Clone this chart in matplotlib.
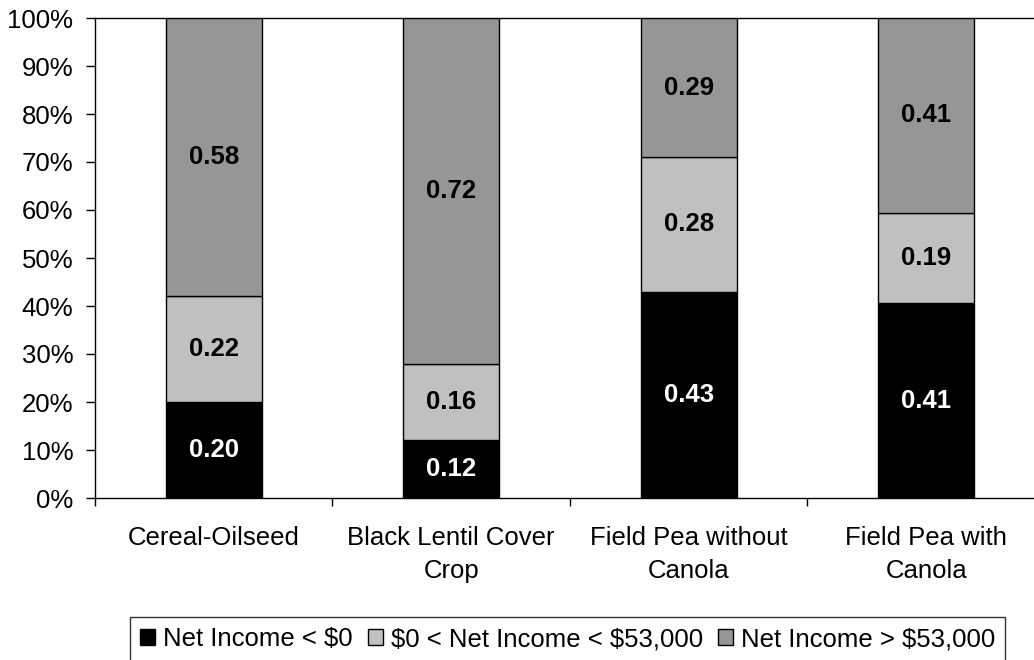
import numpy as np
import matplotlib
matplotlib.use("Agg")
import matplotlib.pyplot as plt
from matplotlib.ticker import FuncFormatter

plt.rcParams['font.family'] = ['Liberation Sans', 'DejaVu Sans']
plt.rcParams['text.parse_math'] = False

categories = ["Cereal-Oilseed", "Black Lentil Cover\nCrop",
              "Field Pea without\nCanola", "Field Pea with\nCanola"]
series_names = ["Net Income < $0", "$0 < Net Income < $53,000",
                "Net Income > $53,000"]
below_zero = [0.20, 0.12, 0.43, 0.41]
mid_income = [0.22, 0.16, 0.28, 0.19]
high_income = [0.58, 0.72, 0.29, 0.41]

colors = ["#000000", "#c0c0c0", "#969696"]
text_colors = ["white", "black", "black"]
FS = 18.5

data = np.array([below_zero, mid_income, high_income])
shares = data / data.sum(axis=0)

fig = plt.figure(figsize=(10.34, 6.6), dpi=100)
ax = fig.add_axes([95 / 1034, 1 - 498 / 660, 950 / 1034, 480 / 660])

x = np.arange(len(categories))
bottom = np.zeros(len(categories))
handles = []
for i, name in enumerate(series_names):
    bars = ax.bar(x, shares[i], bottom=bottom, width=0.405, color=colors[i],
                  edgecolor="black", linewidth=1.0, label=name, zorder=3)
    handles.append(bars)
    for xi, b, s, v in zip(x, bottom, shares[i], data[i]):
        ax.text(xi, b + s / 2, f"{v:.2f}", ha="center", va="center",
                fontsize=FS, fontweight="bold", color=text_colors[i], zorder=4)
    bottom += shares[i]

ax.set_xlim(-0.5, len(categories) - 0.5)
ax.set_ylim(0, 1)
ax.set_yticks(np.linspace(0, 1, 11))
ax.yaxis.set_major_formatter(FuncFormatter(lambda v, _: f"{v * 100:.0f}%"))
ax.tick_params(axis="y", direction="out", length=6.5, width=1, labelsize=FS, pad=9)

# category labels centred between boundary ticks
ax.set_xticks(np.arange(-0.5, len(categories) + 0.5, 1.0))
ax.set_xticklabels([])
ax.set_xticks(x, minor=True)
ax.set_xticklabels(categories, minor=True, fontsize=FS, linespacing=1.5)
ax.tick_params(axis="x", which="major", direction="out", length=6, width=1)
ax.tick_params(axis="x", which="minor", length=0, pad=20)

for side in ["left", "bottom", "top"]:
    ax.spines[side].set_linewidth(1.0)
    ax.spines[side].set_color("black")
ax.spines["right"].set_visible(False)

leg = fig.legend(handles=handles, labels=series_names, loc="upper left",
                 bbox_to_anchor=(130 / 1034, 1 - 617 / 660), ncol=3,
                 fontsize=FS, frameon=True, fancybox=False, edgecolor="black",
                 handlelength=0.58, handleheight=0.58, handletextpad=0.3,
                 columnspacing=0.6, borderpad=0.4, borderaxespad=0)
leg.get_frame().set_linewidth(1.0)

fig.savefig("out.png", dpi=100)
